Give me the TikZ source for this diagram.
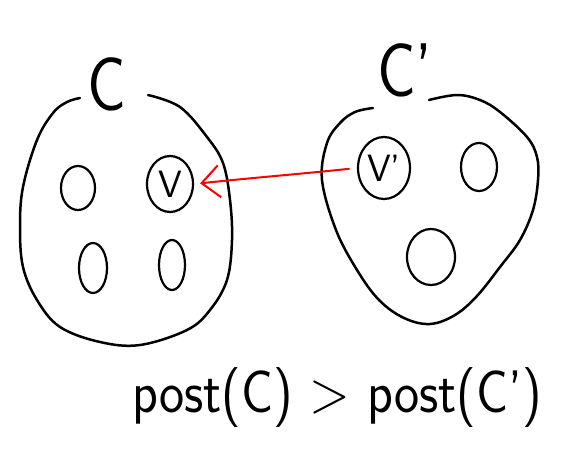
\documentclass[tikz,border=0pt]{standalone}
\usetikzlibrary{shapes.geometric,arrows.meta}
\begin{document}
\begin{tikzpicture}[x=1pt,y=-1pt,
  blob/.style={line width=2.5pt,line cap=round,line join=round},
  elem/.style={draw,ellipse,line width=2.2pt,inner sep=0pt,font=\sffamily\fontsize{38}{38}\selectfont},
  biglabel/.style={font=\sffamily\fontsize{76}{76}\selectfont,inner sep=0pt,xscale=0.85},
  redarrow/.style={draw=red,line width=2pt,line cap=round,-{Straight Barb[length=18pt,width=32pt,line width=2pt]}}]
\useasboundingbox (0,0) rectangle (574,463);
% left cluster
\draw[blob] plot[smooth,tension=0.6] coordinates {(148,95) (180,107) (207,137) (223,163) (230,200) (232,240) (227,280) (210,310) (187,330) (140,345) (100,342) (60,327) (37,300) (23,267) (20,227) (23,187) (37,140) (53,113) (67,102) (80,98)};
\node[biglabel] (lc) at (107,84) {C};
\node[elem,minimum width=34pt,minimum height=44pt] (a1) at (78,188) {};
\node[elem,minimum width=46pt,minimum height=56pt] (v) at (170,184) {V};
\node[elem,minimum width=28pt,minimum height=50pt] (a3) at (93,268) {};
\node[elem,minimum width=26pt,minimum height=50pt] (a4) at (172,265) {};
% right cluster
\draw[blob] plot[smooth,tension=0.6] coordinates {(429,100) (457,95) (480,100) (500,112) (527,137) (537,157) (538,180) (533,210) (520,240) (500,267) (477,296) (455,315) (430,324) (404,318) (379,300) (357,270) (336,230) (322,180) (327,143) (340,123) (355,112) (373,108)};
\node[biglabel] (rc) at (405,70) {C'};
\node[elem,minimum width=52pt,minimum height=62pt] (vp) at (384,168) {V'};
\node[elem,minimum width=36pt,minimum height=48pt] (b2) at (479,167) {};
\node[elem,minimum width=48pt,minimum height=56pt] (b3) at (431,257) {};
% arrow
\draw[redarrow,shorten <=8pt,shorten >=6pt] (vp.west) .. controls (300,174) and (250,178) .. (v.east);
% formula
\node[anchor=base,inner sep=0pt,xscale=0.89,font=\sffamily\fontsize{60}{62}\selectfont] (f) at (337,412) {post(C) > post(C')};
\end{tikzpicture}
\end{document}
